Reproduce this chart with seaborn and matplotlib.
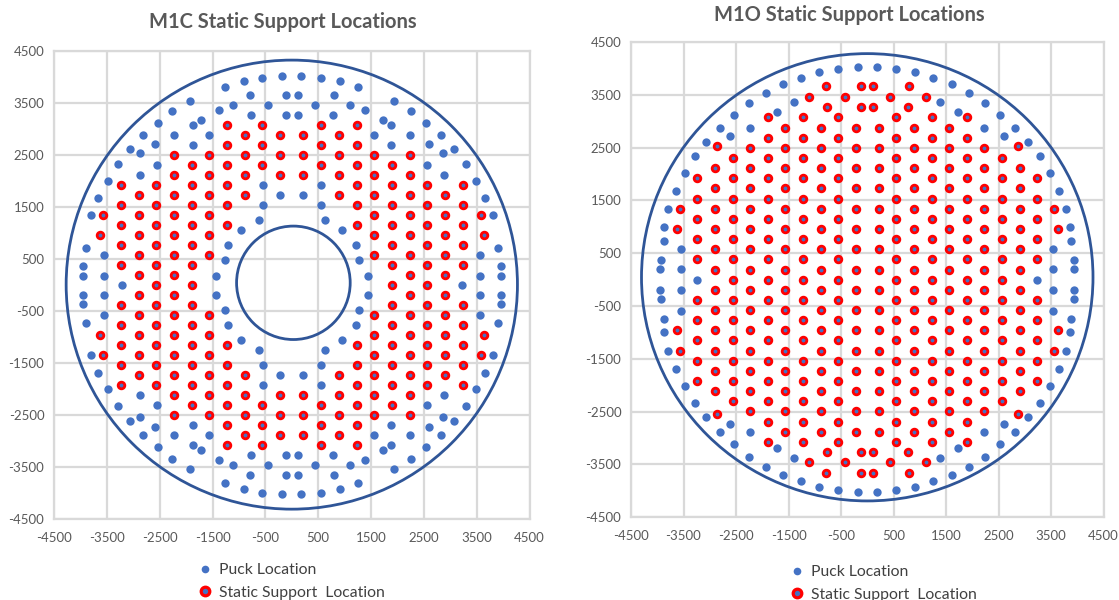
import matplotlib
matplotlib.use("Agg")
import matplotlib.pyplot as plt
from matplotlib.patches import Ellipse
from matplotlib.lines import Line2D
import pandas as pd
import seaborn as sns

sns.set_theme(style="white")
plt.rcParams["font.family"] = ["Lato", "DejaVu Sans"]
plt.rcParams["axes.unicode_minus"] = False

PUCK_BLUE = "#4472C4"
RING_RED = "#FF0000"
OUTLINE = "#2F5597"
GRID = "#D9D9D9"
TICK_TEXT = "#595959"
LEGEND_TEXT = "#404040"

tick_values = [-4500, -3500, -2500, -1500, -500, 500, 1500, 2500, 3500, 4500]

# ---------------- M1C (centre segment) ----------------
m1c_support_y = [3072, 2880, 2688, 2496, 2304, 2112, 1920, 1728, 1536, 1344, 1152, 960, 768, 576, 384, 192, 0,
                 -192, -384, -576, -768, -960, -1152, -1344, -1536, -1728, -1920, -2112, -2304, -2496,
                 -2688, -2880, -3072]
m1c_support_x = [
    [-1225, -555, 555, 1225],
    [-890, -220, 220, 890],
    [-1225, -555, 555, 1225],
    [-2230, -1560, -890, -220, 220, 890, 1560, 2230],
    [-1895, -1225, -555, 555, 1225, 1895],
    [-2230, -1560, -890, -220, 220, 890, 1560, 2230],
    [-3235, -2565, -1895, -1225, 1225, 1895, 2565, 3235],
    [-2900, -2230, -1560, -890, 890, 1560, 2230, 2900],
    [-3235, -2565, -1895, -1225, 1225, 1895, 2565, 3235],
    [-3580, -2900, -2230, -1560, 1560, 2230, 2900, 3580],
    [-3235, -2565, -1895, -1225, 1225, 1895, 2565, 3235],
    [-3630, -2900, -2230, -1560, 1560, 2230, 2900, 3630],
    [-3235, -2565, -1895, 1895, 2565, 3235],
    [-2900, -2230, -1560, 1560, 2230, 2900],
    [-3235, -2565, -1895, 1895, 2565, 3235],
    [-2900, -2230, 2230, 2900],
    [-2565, -1895, 1895, 2565],
    [-2900, -2230, 2230, 2900],
    [-3235, -2565, -1895, 1895, 2565, 3235],
    [-2900, -2230, -1560, 1560, 2230, 2900],
    [-3235, -2565, -1895, 1895, 2565, 3235],
    [-3630, -2900, -2230, -1560, 1560, 2230, 2900, 3630],
    [-3235, -2565, -1895, -1225, 1225, 1895, 2565, 3235],
    [-3580, -2900, -2230, -1560, 1560, 2230, 2900, 3580],
    [-3235, -2565, -1895, -1225, 1225, 1895, 2565, 3235],
    [-2900, -2230, -1560, -890, 890, 1560, 2230, 2900],
    [-3235, -2565, -1895, -1225, 1225, 1895, 2565, 3235],
    [-2230, -1560, -890, -220, 220, 890, 1560, 2230],
    [-1895, -1225, -555, 555, 1225, 1895],
    [-2230, -1560, -890, -220, 220, 890, 1560, 2230],
    [-1225, -555, 555, 1225],
    [-890, -220, 220, 890],
    [-1225, -555, 555, 1225],
]

m1c_puck_y = [4018, 3986, 3922, 3807, 3647, 3538, 3455, 3359, 3346, 3263, 3167, 3116, 3071, 2879, 2719,
              2687, 2610, 2540, 2322, 2303, 2111, 2002, 1919, 1727, 1682, 1535, 1343, 1247, 1055, 767,
              722, 575, 479, 364, 185, 0,
              -185, -364, -479, -575, -722, -767, -1055, -1247, -1343, -1535, -1682, -1727, -1919,
              -2002, -2111, -2303, -2322, -2540, -2610, -2687, -2719, -2879, -3071, -3116, -3167,
              -3263, -3346, -3359, -3455, -3538, -3647, -3807, -3922, -3986, -4018]
m1c_puck_x = [
    [-176, 176], [-555, 555], [-912, 912], [-1261, 1261], [-795, -108, 108, 795], [-1927, 1927],
    [-1110, -447, 447, 1110], [-1380, 1380], [-2258, 2258], [-777, -108, 108, 777], [-1724, 1724],
    [-2536, 2536], [-1870, 1870], [-2817, -2230, -1560, 1560, 2230, 2817], [-2597, 2597],
    [-1870, 1870], [-3062, 3062], [-2869, 2869], [-3293, 3293], [-2553, 2553], [-2880, 2880],
    [-3487, 3487], [-551, 551], [-220, 220], [-3658, 3658], [-551, 551], [-3800, 3800],
    [-625, 625], [-952, 952], [-1214, 1214], [-3901, 3901], [-3557, 3557], [-1270, 1270],
    [-3960, 3960], [-3960, -3557, -1437, 1437, 3557, 3960], [-3212, 3212],
    [-3960, -3557, -1437, 1437, 3557, 3960], [-3960, 3960], [-1270, 1270], [-3557, 3557],
    [-3901, 3901], [-1214, 1214], [-952, 952], [-625, 625], [-3800, 3800], [-551, 551],
    [-3658, 3658], [-220, 220], [-551, 551], [-3487, 3487], [-2880, 2880], [-2553, 2553],
    [-3293, 3293], [-2869, 2869], [-3062, 3062], [-1870, 1870], [-2597, 2597],
    [-2817, -2230, -1560, 1560, 2230, 2817], [-1870, 1870], [-2536, 2536], [-1724, 1724],
    [-777, -108, 108, 777], [-2258, 2258], [-1380, 1380], [-1110, -447, 447, 1110],
    [-1927, 1927], [-795, -108, 108, 795], [-1261, 1261], [-912, 912], [-555, 555], [-176, 176],
]

# ---------------- M1O (off-axis segment) ----------------
m1o_support_y = [3660, 3457, 3266, 3072, 2880, 2688, 2540, 2496, 2304, 2112, 1920, 1728, 1536, 1344, 1152,
                 960, 768, 576, 384, 192, 0,
                 -192, -384, -576, -768, -960, -1152, -1344, -1536, -1728, -1920, -2112, -2304, -2496,
                 -2540, -2688, -2880, -3072, -3266, -3457, -3660]
m1o_support_x = [
    [-793, -112, 112, 793],
    [-1114, -431, 431, 1114],
    [-775, -112, 112, 775],
    [-1895, -1225, -555, 555, 1225, 1895],
    [-1560, -890, -220, 220, 890, 1560],
    [-1895, -1225, -555, 555, 1225, 1895],
    [-2870, 2870],
    [-2230, -1560, -890, -220, 220, 890, 1560, 2230],
    [-2565, -1895, -1225, -555, 555, 1225, 1895, 2565],
    [-2900, -2230, -1560, -890, -220, 220, 890, 1560, 2230, 2900],
    [-3235, -2565, -1895, -1225, -555, 555, 1225, 1895, 2565, 3235],
    [-2900, -2230, -1560, -890, -220, 220, 890, 1560, 2230, 2900],
    [-3235, -2565, -1895, -1225, -555, 555, 1225, 1895, 2565, 3235],
    [-3565, -2900, -2230, -1560, -890, -220, 220, 890, 1560, 2230, 2900, 3565],
    [-3235, -2565, -1895, -1225, -555, 555, 1225, 1895, 2565, 3235],
    [-3630, -2900, -2230, -1560, -890, -220, 220, 890, 1560, 2230, 2900, 3630],
    [-3235, -2565, -1895, -1225, -555, 555, 1225, 1895, 2565, 3235],
    [-2900, -2230, -1560, -890, -220, 220, 890, 1560, 2230, 2900],
    [-3235, -2565, -1895, -1225, -555, 555, 1225, 1895, 2565, 3235],
    [-2900, -2230, -1560, -890, -220, 220, 890, 1560, 2230, 2900],
    [-2565, -1895, -1225, -555, 555, 1225, 1895, 2565],
    [-2900, -2230, -1560, -890, -220, 220, 890, 1560, 2230, 2900],
    [-3235, -2565, -1895, -1225, -555, 555, 1225, 1895, 2565, 3235],
    [-2900, -2230, -1560, -890, -220, 220, 890, 1560, 2230, 2900],
    [-3235, -2565, -1895, -1225, -555, 555, 1225, 1895, 2565, 3235],
    [-3630, -2900, -2230, -1560, -890, -220, 220, 890, 1560, 2230, 2900, 3630],
    [-3235, -2565, -1895, -1225, -555, 555, 1225, 1895, 2565, 3235],
    [-3565, -2900, -2230, -1560, -890, -220, 220, 890, 1560, 2230, 2900, 3565],
    [-3235, -2565, -1895, -1225, -555, 555, 1225, 1895, 2565, 3235],
    [-2900, -2230, -1560, -890, -220, 220, 890, 1560, 2230, 2900],
    [-3235, -2565, -1895, -1225, -555, 555, 1225, 1895, 2565, 3235],
    [-2900, -2230, -1560, -890, -220, 220, 890, 1560, 2230, 2900],
    [-2565, -1895, -1225, -555, 555, 1225, 1895, 2565],
    [-2230, -1560, -890, -220, 220, 890, 1560, 2230],
    [-2870, 2870],
    [-1895, -1225, -555, 555, 1225, 1895],
    [-1560, -890, -220, 220, 890, 1560],
    [-1895, -1225, -555, 555, 1225, 1895],
    [-775, -112, 112, 775],
    [-1114, -431, 431, 1114],
    [-793, -112, 112, 793],
]

m1o_puck_y = [4018, 3986, 3928, 3822, 3703, 3539, 3369, 3351, 3181, 3118, 2880, 2725, 2610, 2332, 2017,
              1684, 1344, 992, 740, 589, 363, 193, 0,
              -193, -363, -589, -740, -992, -1344, -1684, -2017, -2332, -2610, -2725, -2880, -3118,
              -3181, -3351, -3369, -3539, -3703, -3822, -3928, -3986, -4018]
m1o_puck_x = [
    [-183, 183], [-553, 553], [-910, 910], [-1260, 1260], [-1605, 1605], [-1937, 1937],
    [-1388, 1388], [-2243, 2243], [-1723, 1723], [-2537, 2537], [-2814, -2224, 2224, 2814],
    [-2610, 2610], [-3069, 3069], [-3287, 3287], [-3478, 3478], [-3647, 3647], [-3794, 3794],
    [-3865, 3865], [-3880, 3880], [-3540, 3540], [-3930, 3930], [-3940, -3540, 3540, 3940],
    [-3235, 3235],
    [-3940, -3540, 3540, 3940], [-3930, 3930], [-3540, 3540], [-3880, 3880], [-3865, 3865],
    [-3794, 3794], [-3647, 3647], [-3478, 3478], [-3287, 3287], [-3069, 3069], [-2610, 2610],
    [-2814, -2224, 2224, 2814], [-2537, 2537], [-1723, 1723], [-2243, 2243], [-1388, 1388],
    [-1937, 1937], [-1605, 1605], [-1260, 1260], [-910, 910], [-553, 553], [-183, 183],
]


def rows_to_frame(row_y, row_x):
    records = [(x, y) for y, xs in zip(row_y, row_x) for x in xs]
    return pd.DataFrame(records, columns=["x", "y"])


def draw_panel(ax, pucks, supports):
    sns.scatterplot(data=pucks, x="x", y="y", ax=ax, color=PUCK_BLUE, s=36,
                    linewidth=0, legend=False, zorder=3)
    sns.scatterplot(data=supports, x="x", y="y", ax=ax, color=PUCK_BLUE, edgecolor=RING_RED,
                    s=23, linewidth=2.0, legend=False, zorder=3)


def style_axes(ax):
    ax.set_xlim(-4500, 4500)
    ax.set_ylim(-4500, 4500)
    ax.set_xticks(tick_values)
    ax.set_yticks(tick_values)
    ax.set_xticklabels([str(v) for v in tick_values])
    ax.set_yticklabels([str(v) for v in tick_values])
    ax.grid(True, color=GRID, linewidth=1.6, zorder=0)
    ax.set_axisbelow(True)
    for sp in ax.spines.values():
        sp.set_color(GRID)
        sp.set_linewidth(1.6)
    ax.tick_params(axis="both", length=0, labelsize=9.5, colors=TICK_TEXT)
    ax.tick_params(axis="x", pad=9)
    ax.tick_params(axis="y", pad=7)
    ax.set_xlabel("")
    ax.set_ylabel("")


fig = plt.figure(figsize=(11.19, 6.0), dpi=100)
W, H = 1119.0, 600.0

ax1 = fig.add_axes([54 / W, 1 - 519.3 / H, 475.6 / W, 468.3 / H])
ax2 = fig.add_axes([631 / W, 1 - 517.3 / H, 472.5 / W, 475.3 / H])

draw_panel(ax1, rows_to_frame(m1c_puck_y, m1c_puck_x), rows_to_frame(m1c_support_y, m1c_support_x))
draw_panel(ax2, rows_to_frame(m1o_puck_y, m1o_puck_x), rows_to_frame(m1o_support_y, m1o_support_x))

for ax in (ax1, ax2):
    style_axes(ax)

# segment outlines
ax1.add_patch(Ellipse((0, 10), 2 * 4270, 2 * 4315, fill=False, edgecolor=OUTLINE, linewidth=2.0, zorder=2))
ax1.add_patch(Ellipse((30, 45), 2 * 1075, 2 * 1090, fill=False, edgecolor=OUTLINE, linewidth=2.0, zorder=2))
ax2.add_patch(Ellipse((0, 45), 2 * 4300, 2 * 4235, fill=False, edgecolor=OUTLINE, linewidth=2.0, zorder=2))

fig.text(283 / W, 1 - 21.5 / H, "M1C Static Support Locations", ha="center", va="center",
         fontsize=14.5, fontweight="bold", color=TICK_TEXT)
fig.text(849 / W, 1 - 15 / H, "M1O Static Support Locations", ha="center", va="center",
         fontsize=14.5, fontweight="bold", color=TICK_TEXT)

handles = [
    Line2D([], [], linestyle="", marker="o", markersize=5.5, markerfacecolor=PUCK_BLUE,
           markeredgecolor=PUCK_BLUE, markeredgewidth=0),
    Line2D([], [], linestyle="", marker="o", markersize=6.2, markerfacecolor=PUCK_BLUE,
           markeredgecolor=RING_RED, markeredgewidth=2.3),
]
labels = ["Puck Location", "Static Support  Location"]

for x_px, y_px in ((199, 563), (791, 565)):
    fig.legend(handles, labels, loc="upper left", bbox_to_anchor=(x_px / W, 1 - y_px / H),
               frameon=False, fontsize=11.3, handlelength=0.8, handletextpad=0.45,
               labelspacing=0.55, borderpad=0, borderaxespad=0, labelcolor=LEGEND_TEXT)

fig.savefig("out.png", dpi=100)
